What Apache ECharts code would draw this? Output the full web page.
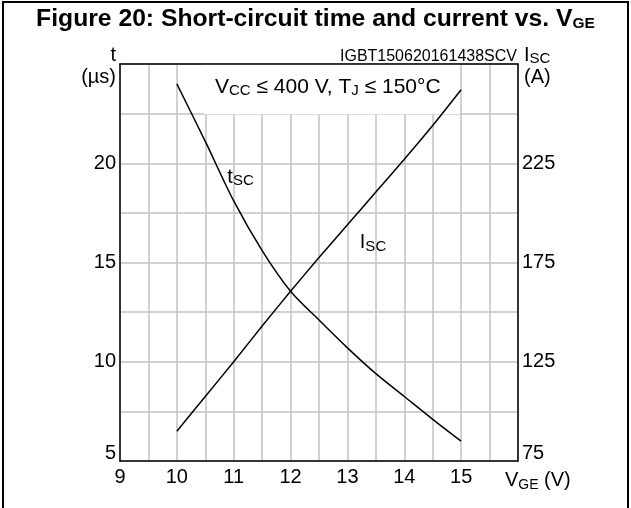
<!DOCTYPE html>
<html>
<head>
<meta charset="utf-8">
<script src="https://cdn.jsdelivr.net/npm/echarts@6/dist/echarts.min.js"></script>
<style>
html,body{margin:0;padding:0;background:#fff;}
#chart{width:631px;height:508px;}
</style>
</head>
<body>
<div id="chart"></div>
<script>
// Data
var vge = [10, 10.5, 11, 11.5, 12, 12.5, 13, 13.5, 14, 14.5, 15];
var tsc = [24.0, 21.1, 18.1, 15.6, 13.55, 12.1, 10.7, 9.4, 8.25, 7.1, 6.0];   // µs
var isc = [90, 107.5, 125, 143, 160.5, 177.5, 194, 210.5, 227, 244, 262];     // A
var xTickLabels = [9, 10, 11, 12, 13, 14, 15];
var leftTickLabels = [5, 10, 15, 20];
var rightTickLabels = [75, 125, 175, 225];

var FONT = '"Liberation Sans", Arial, sans-serif';
var chart = echarts.init(document.getElementById('chart'), null, {renderer: 'canvas'});

function pairs(xs, ys) { return xs.map(function (x, i) { return [x, ys[i]]; }); }

var gridColor = '#c2c2c2';

var option = {
  backgroundColor: '#fff',
  animation: false,
  textStyle: {fontFamily: FONT, color: '#000'},
  title: [{
    text: 'Figure 20: Short-circuit time and current vs. V{s|GE}',
    left: 'center', top: 2,
    textStyle: {
      fontFamily: FONT, fontSize: 24.7, fontWeight: 'bold', color: '#000',
      rich: {s: {fontFamily: FONT, fontSize: 15.5, fontWeight: 'bold', color: '#000', verticalAlign: 'bottom', padding: [8, 0, 0, 0]}}
    }
  }, {
    text: 'IGBT150620161438SCV',
    right: 114, top: 49, padding: 0,
    textStyle: {fontFamily: FONT, fontSize: 16, fontWeight: 'normal', color: '#000'}
  }],
  graphic: [{
    type: 'rect', silent: true, z: -10,
    shape: {x: 3, y: 2, width: 625, height: 520},
    style: {fill: 'none', stroke: '#000', lineWidth: 2}
  }],
  grid: {left: 120, right: 113, top: 64, bottom: 47, containLabel: false},
  xAxis: [{
    type: 'value', min: 9, max: 16, interval: 0.5, position: 'bottom',
    axisLine: {show: true, lineStyle: {color: '#000', width: 1.5}},
    axisTick: {show: false},
    splitLine: {show: true, lineStyle: {color: gridColor, width: 1.5}},
    axisLabel: {
      fontFamily: FONT, fontSize: 20, color: '#000', margin: 6,
      formatter: function (v) { return xTickLabels.indexOf(v) >= 0 ? String(v) : ''; }
    },
    name: 'V{s|GE} (V)', nameLocation: 'end', nameGap: -13,
    nameTextStyle: {
      fontFamily: FONT, fontSize: 20, color: '#000', align: 'left', verticalAlign: 'top', padding: [7, 0, 0, 0],
      rich: {s: {fontFamily: FONT, fontSize: 14, color: '#000', verticalAlign: 'bottom', padding: [10, 0, 0, 0]}}
    }
  }, {
    type: 'value', min: 9, max: 16, position: 'top', z: 10,
    axisLine: {show: true, lineStyle: {color: '#000', width: 1.5}},
    axisTick: {show: false}, axisLabel: {show: false}, splitLine: {show: false}
  }],
  yAxis: [{
    type: 'value', min: 5, max: 25, interval: 2.5, position: 'left',
    axisLine: {show: true, lineStyle: {color: '#000', width: 1.5}},
    axisTick: {show: false},
    splitLine: {show: true, lineStyle: {color: gridColor, width: 1.5}},
    axisLabel: {
      fontFamily: FONT, fontSize: 20, color: '#000', margin: 4,
      formatter: function (v) {
        if (leftTickLabels.indexOf(v) < 0) return '';
        return v === 5 ? '{b|' + v + '}' : String(v);
      },
      rich: {b: {fontFamily: FONT, fontSize: 20, color: '#000', padding: [0, 0, 16, 0]}}
    },
    name: 't\n(µs)', nameLocation: 'end', nameGap: 20,
    nameTextStyle: {fontFamily: FONT, fontSize: 20, color: '#000', align: 'right', verticalAlign: 'top', lineHeight: 22, padding: [0, 4, 0, 0]}
  }, {
    type: 'value', min: 75, max: 275, interval: 25, position: 'right',
    axisLine: {show: true, lineStyle: {color: '#000', width: 1.5}},
    axisTick: {show: false}, splitLine: {show: false},
    axisLabel: {
      fontFamily: FONT, fontSize: 20, color: '#000', margin: 4,
      formatter: function (v) {
        if (rightTickLabels.indexOf(v) < 0) return '';
        return v === 75 ? '{b|' + v + '}' : String(v);
      },
      rich: {b: {fontFamily: FONT, fontSize: 20, color: '#000', padding: [0, 0, 16, 0]}}
    },
    name: 'I{s|SC}\n(A)', nameLocation: 'end', nameGap: 20,
    nameTextStyle: {
      fontFamily: FONT, fontSize: 20, color: '#000', align: 'left', verticalAlign: 'top', lineHeight: 22, padding: [0, 0, 0, 6],
      rich: {s: {fontFamily: FONT, fontSize: 15, color: '#000', verticalAlign: 'bottom', padding: [8, 0, 0, 0]}}
    }
  }],
  series: [{
    name: 'box', type: 'line', data: [], z: 1, xAxisIndex: 0, yAxisIndex: 0,
    markArea: {
      silent: true,
      itemStyle: {color: '#fff', opacity: 1},
      label: {
        show: true, position: 'inside', fontFamily: FONT, fontSize: 21, color: '#000',
        padding: [0, 8, 4, 0],
        formatter: 'V{s|CC} ≤ 400 V, T{s|J} ≤ 150°C',
        rich: {s: {fontFamily: FONT, fontSize: 15, color: '#000', verticalAlign: 'bottom', padding: [8, 0, 0, 0]}}
      },
      data: [[{xAxis: 10.47, yAxis: 22.47}, {xAxis: 14.98, yAxis: 25}]]
    }
  }, {
    name: 'tSC', type: 'line', z: 3, xAxisIndex: 0, yAxisIndex: 0,
    data: pairs(vge, tsc), smooth: 0.3, showSymbol: false,
    lineStyle: {color: '#000', width: 1.5},
    markPoint: {
      symbol: 'circle', symbolSize: 0, silent: true,
      label: {
        show: true, position: 'inside', fontFamily: FONT, fontSize: 20, color: '#000',
        formatter: 't{s|SC}',
        rich: {s: {fontFamily: FONT, fontSize: 15, color: '#000', verticalAlign: 'bottom', padding: [8, 0, 0, 0]}}
      },
      data: [{coord: [11.12, 19.3]}]
    }
  }, {
    name: 'ISC', type: 'line', z: 3, xAxisIndex: 0, yAxisIndex: 1,
    data: pairs(vge, isc), smooth: 0.2, showSymbol: false,
    lineStyle: {color: '#000', width: 1.5},
    markPoint: {
      symbol: 'circle', symbolSize: 0, silent: true,
      label: {
        show: true, position: 'inside', fontFamily: FONT, fontSize: 20, color: '#000',
        formatter: 'I{s|SC}',
        rich: {s: {fontFamily: FONT, fontSize: 15, color: '#000', verticalAlign: 'bottom', padding: [8, 0, 0, 0]}}
      },
      data: [{coord: [13.45, 185]}]
    }
  }]
};
chart.setOption(option);
</script>
</body>
</html>
